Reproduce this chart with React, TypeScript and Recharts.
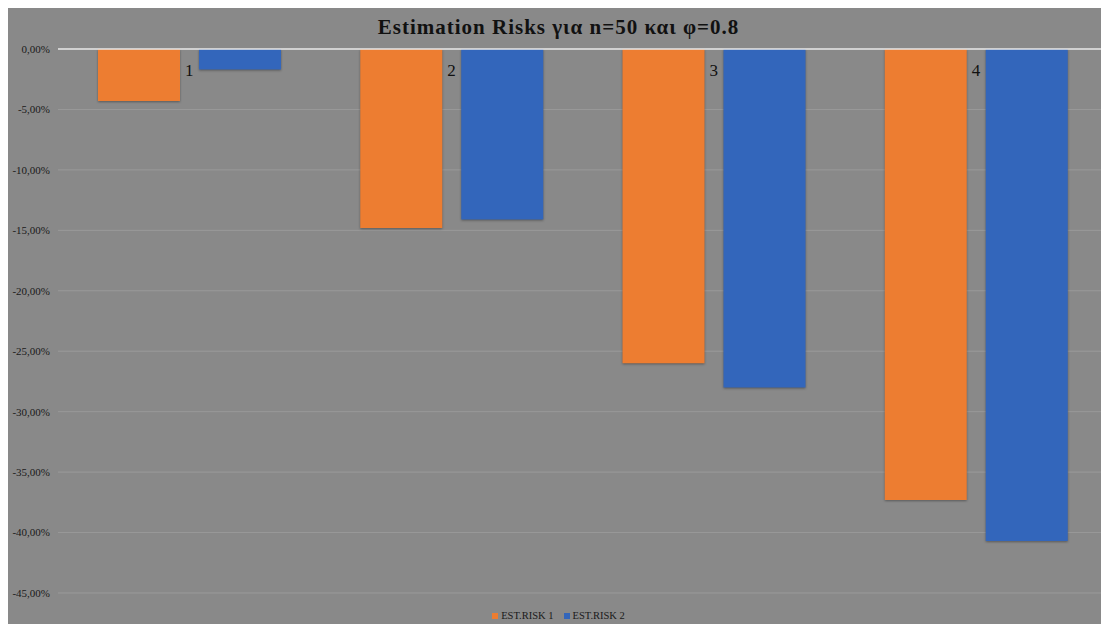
import { Bar, BarChart, CartesianGrid, ReferenceLine, XAxis, YAxis } from "recharts";

const categories = ["1", "2", "3", "4"];
const estRisk1 = [-0.043, -0.148, -0.26, -0.373];
const estRisk2 = [-0.017, -0.141, -0.28, -0.407];
const yTicks = [0, -0.05, -0.1, -0.15, -0.2, -0.25, -0.3, -0.35, -0.4, -0.45];

const seriesNames = ["EST.RISK 1", "EST.RISK 2"];
const colors = ["#ED7D31", "#3366BB"];

const data = categories.map((name, i) => ({
  name,
  r1: estRisk1[i],
  r2: estRisk2[i],
}));

const serif = '"Liberation Serif", "Times New Roman", serif';

const fmt = (v: number) => (v * 100).toFixed(2).replace(".", ",") + "%";

// category numbers sit just under the zero line, between the two bars
function CategoryTick(props: any) {
  const { x, y, payload } = props;
  return (
    <text x={x} y={y} dy={35} textAnchor="middle" fill="#111" fontSize={17} fontFamily={serif}>
      {payload.value}
    </text>
  );
}

const shadow = { filter: "drop-shadow(0px 1.5px 1px rgba(0,0,0,0.35))" };

export default function App() {
  return (
    <div style={{ position: "relative", width: 1101, height: 616, background: "#898989" }}>
      <div
        style={{
          position: "absolute",
          top: 7,
          left: 0,
          width: "100%",
          textAlign: "center",
          fontFamily: serif,
          fontWeight: "bold",
          fontSize: 21,
          color: "#111",
          letterSpacing: 1,
        }}
      >
        Estimation Risks για n=50 και φ=0.8
      </div>
      <BarChart
        width={1101}
        height={616}
        data={data}
        margin={{ top: 11, right: 2, left: 0, bottom: 31 }}
        barCategoryGap={40}
        barGap={19}
      >
        <CartesianGrid vertical={false} stroke="#9a9a9a" />
        <XAxis
          dataKey="name"
          orientation="top"
          height={30}
          axisLine={false}
          tickLine={false}
          tick={<CategoryTick />}
        />
        <YAxis
          width={50}
          domain={[-0.45, 0]}
          ticks={yTicks}
          tickFormatter={fmt}
          axisLine={false}
          tickLine={false}
          tick={{ fill: "#1a1a1a", fontSize: 11, fontFamily: serif }}
        />
        <Bar dataKey="r1" name={seriesNames[0]} fill={colors[0]} style={shadow} isAnimationActive={false} />
        <Bar dataKey="r2" name={seriesNames[1]} fill={colors[1]} style={shadow} isAnimationActive={false} />
        <ReferenceLine y={0} stroke="#e6e6e6" strokeWidth={1.5} />
      </BarChart>
      <div
        style={{
          position: "absolute",
          top: 602,
          left: 0,
          width: "100%",
          display: "flex",
          justifyContent: "center",
          gap: 10,
          fontFamily: serif,
          fontSize: 10.5,
          color: "#1a1a1a",
        }}
      >
        {seriesNames.map((n, i) => (
          <span key={n} style={{ display: "flex", alignItems: "center", gap: 3 }}>
            <span style={{ width: 6, height: 6, background: colors[i], display: "inline-block" }} />
            {n}
          </span>
        ))}
      </div>
    </div>
  );
}
